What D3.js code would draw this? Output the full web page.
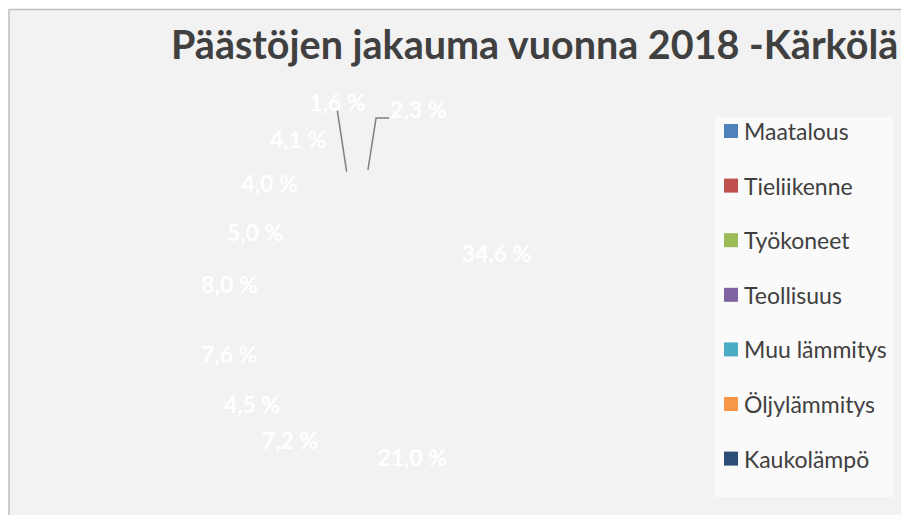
<!DOCTYPE html>
<html>
<head>
<meta charset="utf-8">
<title>Päästöjen jakauma vuonna 2018 -Kärkölä</title>
<script src="https://d3js.org/d3.v7.min.js"></script>
<style>
  body { margin: 0; background: #fff; }
  svg { display: block; font-family: Lato, "Open Sans", sans-serif; }
</style>
</head>
<body>
<script>
// Data (share of emissions, %)
const categories = ["Maatalous", "Tieliikenne", "Työkoneet", "Teollisuus", "Muu lämmitys",
  "Öljylämmitys", "Kaukolämpö", "Sähkölämmitys", "Kulutussähkö", "Jätteiden käsittely", "F-kaasut"];
const shares = [34.6, 21.0, 7.2, 4.5, 7.6, 8.0, 5.0, 4.0, 4.1, 1.6, 2.3];
const palette = ["#4f81bd", "#c0504d", "#9bbb59", "#8064a2", "#4bacc6", "#f79646",
  "#2c4d75", "#772c2a", "#5f7530", "#4d3b62", "#276a7c"];
const titleText = "Päästöjen jakauma vuonna 2018 -Kärkölä";

const W = 901, H = 515;
const bg = "#f2f2f2";

const svg = d3.select("body").append("svg")
  .attr("width", W).attr("height", H);

// chart area (runs off the right and bottom edge)
svg.append("rect")
  .attr("x", 9).attr("y", 9.5)
  .attr("width", W + 20).attr("height", H + 20)
  .attr("fill", bg).attr("stroke", "#bfbfbf").attr("stroke-width", 1.5);

// title
svg.append("text")
  .attr("x", 171).attr("y", 59)
  .attr("fill", "#404040")
  .style("font-size", "39.5px").style("font-weight", 700)
  .text(titleText);

// pie
const cx = 369, cy = 320, r = 150;
const data = categories.map((c, i) => ({name: c, value: shares[i], color: palette[i]}));
const pie = d3.pie().sort(null).value(d => d.value);
const arcs = pie(data);
const arc = d3.arc().innerRadius(0).outerRadius(r);

const g = svg.append("g").attr("transform", `translate(${cx},${cy})`);

// slices are drawn in the background colour, as in the source image
g.selectAll("path.slice")
  .data(arcs)
  .enter().append("path")
    .attr("class", "slice")
    .attr("d", arc)
    .attr("fill", bg)
    .attr("stroke", bg);

const polar = (rad, ang) => [rad * Math.sin(ang), -rad * Math.cos(ang)];
const deg = Math.PI / 180;

// label placement: inside near the edge, small slices outside, tiny ones with leader lines
const labelFont = 23, boxW = 58, boxH = 19, pad = 12;
const placed = [];
const overlaps = (p) => placed.some(q =>
  Math.abs(p[0] - q[0]) < boxW + 2 * pad && Math.abs(p[1] - q[1]) < boxH + 2 * pad);

const labels = [];
arcs.forEach(a => {
  const mid = (a.startAngle + a.endAngle) / 2;
  const txt = d3.format(".1f")(a.data.value).replace(".", ",") + " %";
  if (a.data.value >= 4.3) {
    const p = polar(r * 0.96, mid);
    placed.push(p);
    labels.push({txt, x: p[0], y: p[1], anchor: "middle"});
  } else if (a.data.value >= 3) {
    let d = r + 19, p = polar(d, mid);
    while (overlaps(p)) { d += 1; p = polar(d, mid); }
    placed.push(p);
    labels.push({txt, x: p[0], y: p[1], anchor: "middle"});
  } else {
    labels.push({txt, arc: a, leader: true});
  }
});

// leader labels
let nLeader = 0;
labels.filter(l => l.leader).forEach(l => {
  const a = l.arc;
  const end = polar(r, a.endAngle - 0.05 * (a.endAngle - a.startAngle));
  if (nLeader === 0) {
    const p = polar(r + 70, a.endAngle);
    l.x = p[0]; l.y = p[1]; l.anchor = "middle";
    g.append("path")
      .attr("d", d3.line()([[p[0], p[1] + 8], end]))
      .attr("fill", "none").attr("stroke", "#7f7f7f").attr("stroke-width", 1.5);
  } else {
    const elbow = polar(r + 52, a.endAngle + 2 * deg);
    l.x = elbow[0] + 14; l.y = elbow[1] - 9; l.anchor = "start";
    g.append("path")
      .attr("d", d3.line()([end, elbow, [elbow[0] + 13, elbow[1]]]))
      .attr("fill", "none").attr("stroke", "#7f7f7f").attr("stroke-width", 1.5);
  }
  nLeader++;
});

g.selectAll("text.lbl")
  .data(labels)
  .enter().append("text")
    .attr("class", "lbl")
    .attr("x", d => d.x).attr("y", d => d.y)
    .attr("text-anchor", d => d.anchor)
    .attr("dominant-baseline", "central")
    .attr("fill", "#ffffff")
    .style("font-size", labelFont + "px").style("font-weight", 700)
    .text(d => d.txt);

// legend (entries that fit in the box)
const legX = 715, legY = 117, legW = 178, legH = 380, pitch = 54.6;
svg.append("rect")
  .attr("x", legX).attr("y", legY).attr("width", legW).attr("height", legH)
  .attr("fill", "#fafafa");
const nFit = Math.floor((legH - 14 - 27) / pitch) + 1;
const leg = svg.selectAll("g.leg")
  .data(data.slice(0, nFit))
  .enter().append("g")
    .attr("class", "leg")
    .attr("transform", (d, i) => `translate(${legX + 9},${legY + 14 + i * pitch})`);
leg.append("rect")
  .attr("x", 0).attr("y", -7).attr("width", 14).attr("height", 14)
  .attr("fill", d => d.color);
leg.append("text")
  .attr("x", 20).attr("y", 0)
  .attr("dominant-baseline", "central")
  .attr("fill", "#404040")
  .style("font-size", "23px")
  .text(d => d.name);
</script>
</body>
</html>
